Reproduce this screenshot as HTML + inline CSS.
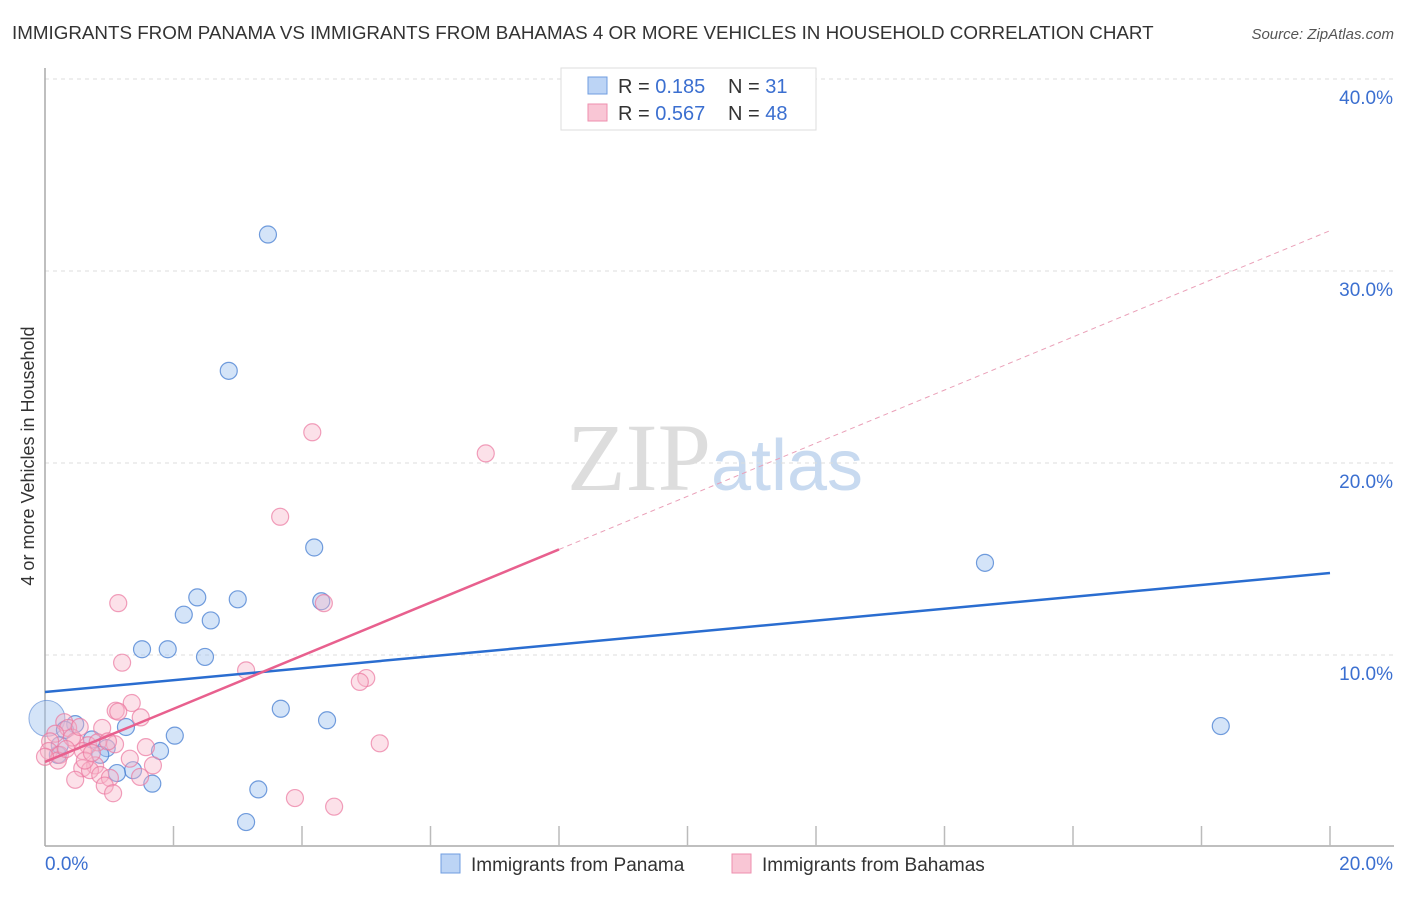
<!DOCTYPE html>
<html><head><meta charset="utf-8"><style>
body{margin:0;background:#fff;font-family:"Liberation Sans",sans-serif;}
</style></head><body>
<svg width="1406" height="892" xmlns="http://www.w3.org/2000/svg" font-family="Liberation Sans, sans-serif">
<text x="12" y="39" font-size="18.8" fill="#333">IMMIGRANTS FROM PANAMA VS IMMIGRANTS FROM BAHAMAS 4 OR MORE VEHICLES IN HOUSEHOLD CORRELATION CHART</text>
<text x="1394" y="39" font-size="15" fill="#555" text-anchor="end" font-style="italic">Source: ZipAtlas.com</text>
<text x="715" y="490" font-size="96" text-anchor="middle" fill="#ddd" font-family="Liberation Serif, serif">ZIP<tspan fill="#c8daf0" font-family="Liberation Sans, sans-serif" font-size="72">atlas</tspan></text>
<g id="grid"></g>
<g id="axes"></g>
<g id="marks"></g>
<text transform="translate(34,456) rotate(-90)" font-size="18" fill="#333" text-anchor="middle">4 or more Vehicles in Household</text>
<g>
<rect x="561" y="68" width="255" height="62" fill="#fff" stroke="#ddd"/>
<rect x="588" y="77" width="19" height="17" fill="#bcd4f5" stroke="#6f9de0"/>
<rect x="588" y="104" width="19" height="17" fill="#f9c6d5" stroke="#ee8fae"/>
<text x="618" y="93" font-size="20" fill="#333">R = <tspan fill="#3b6fd0">0.185</tspan><tspan x="728">N = </tspan><tspan fill="#3b6fd0">31</tspan></text>
<text x="618" y="120" font-size="20" fill="#333">R = <tspan fill="#3b6fd0">0.567</tspan><tspan x="728">N = </tspan><tspan fill="#3b6fd0">48</tspan></text>
</g>
<g>
<rect x="441" y="854" width="19" height="19" fill="#bcd4f5" stroke="#6f9de0"/>
<text x="471" y="871" font-size="19" fill="#333">Immigrants from Panama</text>
<rect x="732" y="854" width="19" height="19" fill="#f9c6d5" stroke="#ee8fae"/>
<text x="762" y="871" font-size="19" fill="#333">Immigrants from Bahamas</text>
</g>
</svg>
<script>
const xTicks=[0,20];
const yTicks=[10,20,30,40];
const panamaX=[3.47,2.86,4.19,14.63,2.37,3.00,4.30,2.16,2.58,1.51,1.91,2.49,3.67,4.39,18.30,0.03,0.47,1.26,2.02,0.96,0.86,1.79,0.20,1.37,1.12,1.67,3.32,3.13,0.31,0.73,0.23];
const panamaY=[31.9,24.8,15.6,14.8,13.0,12.9,12.8,12.1,11.8,10.3,10.3,9.9,7.2,6.6,6.3,6.7,6.4,6.25,5.8,5.15,4.8,5.0,4.8,4.0,3.85,3.3,3.0,1.3,6.1,5.6,5.3];
const bahamasX=[4.16,6.86,3.66,1.14,4.34,1.20,3.13,5.00,4.90,1.35,1.10,1.14,1.49,0.89,0.30,0.36,0.16,0.08,0.47,0.67,0.82,5.21,1.57,1.09,0.06,0.23,0.59,1.32,1.68,0.78,0.58,0.70,0.86,0.47,1.01,1.48,0.93,1.06,3.89,4.50,0.42,0.62,0.20,0.98,0.33,0.00,0.73,0.54];
const bahamasY=[21.6,20.5,17.2,12.7,12.7,9.6,9.2,8.8,8.6,7.5,7.1,7.05,6.75,6.2,6.5,6.2,5.9,5.5,5.5,5.3,5.45,5.4,5.2,5.35,5.0,4.8,5.0,4.6,4.25,4.25,4.1,4.0,3.75,3.5,3.6,3.65,3.2,2.8,2.55,2.1,5.7,4.5,4.5,5.5,5.1,4.7,4.9,6.25];
const blueFit=[8.07,14.27];
const pinkFit=[4.43,32.1];
const NS="http://www.w3.org/2000/svg";
const X=v=>45+v/20*1285, Y=v=>847-v*19.2;
function mk(tag,attrs,parent){const e=document.createElementNS(NS,tag);for(const k in attrs)e.setAttribute(k,attrs[k]);document.getElementById(parent).appendChild(e);return e;}
yTicks.forEach(t=>{
 const g=mk('line',{x1:45,x2:1394,y1:Y(t),y2:Y(t),stroke:'#ddd','stroke-dasharray':'4,4'},'grid');
 
 
 const l=mk('text',{x:1393,y:Y(t)+25,'font-size':19,fill:'#3b6fd0','text-anchor':'end'},'axes');
 l.textContent=t.toFixed(1)+'%';
 
 
});
const ax=mk('line',{x1:45,x2:1394,y1:846,y2:846,stroke:'#aaa','stroke-width':1.5},'axes');


const ay=mk('line',{x1:45,x2:45,y1:68,y2:846,stroke:'#aaa','stroke-width':1.5},'axes');


for(let i=1;i<=10;i++){const t=mk('line',{x1:X(i*2),x2:X(i*2),y1:826,y2:846,stroke:'#bbb','stroke-width':1.5},'axes');
 
 }
xTicks.forEach((t,i)=>{const l=mk('text',{x:i?1393:45,y:870,'font-size':19,fill:'#3b6fd0','text-anchor':i?'end':'start'},'axes');
 l.textContent=t.toFixed(1)+'%';
 
 });
const big=mk('circle',{cx:X(0.03),cy:Y(6.7),r:18,fill:'rgba(160,195,240,0.45)',stroke:'rgba(80,130,210,0.6)'},'marks');


panamaX.forEach((x,i)=>{if(i===15)return;const c=mk('circle',{cx:X(x),cy:Y(panamaY[i]),r:8.5,fill:'rgba(160,195,240,0.45)',stroke:'rgba(70,125,210,0.75)','stroke-width':1.2},'marks');
 
 });
bahamasX.forEach((x,i)=>{const c=mk('circle',{cx:X(x),cy:Y(bahamasY[i]),r:8.5,fill:'rgba(248,180,200,0.4)',stroke:'rgba(235,120,160,0.7)','stroke-width':1.2},'marks');
 
 });
const b=mk('line',{x1:X(0),y1:Y(blueFit[0]),x2:X(20),y2:Y(blueFit[1]),stroke:'#2a6dd0','stroke-width':2.5},'marks');


const pm=pinkFit[0]+(pinkFit[1]-pinkFit[0])*0.4;
const p=mk('line',{x1:X(0),y1:Y(pinkFit[0]),x2:X(8),y2:Y(pm),stroke:'#e8608e','stroke-width':2.5},'marks');


const pd=mk('line',{x1:X(8),y1:Y(pm),x2:X(20),y2:Y(pinkFit[1]),stroke:'#eaa0b8','stroke-width':1,'stroke-dasharray':'5,4'},'marks');


</script>
</body></html>
